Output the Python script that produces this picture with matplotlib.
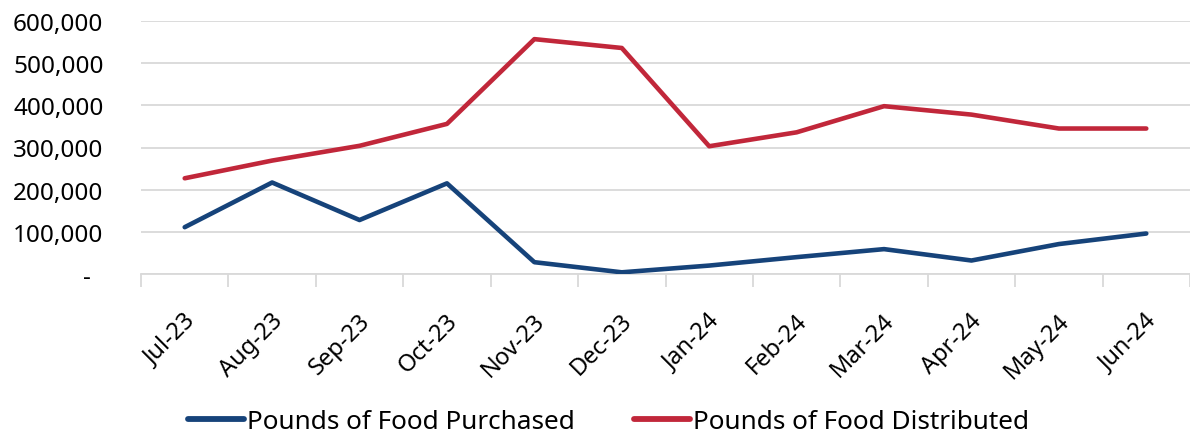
import matplotlib
matplotlib.use("Agg")
import matplotlib.pyplot as plt
import matplotlib.transforms as mtransforms
from matplotlib.ticker import FuncFormatter

months = ["Jul-23", "Aug-23", "Sep-23", "Oct-23", "Nov-23", "Dec-23",
          "Jan-24", "Feb-24", "Mar-24", "Apr-24", "May-24", "Jun-24"]
purchased = [111000, 217000, 128000, 215000, 28000, 4000,
             20000, 40000, 59000, 32000, 71000, 96000]
distributed = [227000, 269000, 304000, 356000, 557000, 536000,
               303000, 336000, 398000, 378000, 345000, 345000]
y_ticks = [0, 100000, 200000, 300000, 400000, 500000, 600000]

BLUE = "#16437A"
RED = "#C1273A"
GRID = "#D9D9D9"

plt.rcParams["font.family"] = ["Noto Sans", "DejaVu Sans"]

fig = plt.figure(figsize=(11.9, 4.39), dpi=100)
ax = fig.add_axes([141/1190, (439-275)/439, (1190-141)/1190, (275-22)/439])

x = list(range(len(months)))
ax.plot(x, purchased, color=BLUE, lw=3.3, solid_capstyle="round",
        solid_joinstyle="round", label="Pounds of Food Purchased", zorder=3)
ax.plot(x, distributed, color=RED, lw=3.3, solid_capstyle="round",
        solid_joinstyle="round", label="Pounds of Food Distributed", zorder=3)

ax.set_xlim(-0.5, (1190-185)/88)
ax.set_ylim(0, 600000)
ax.set_yticks(y_ticks)

def fmt(v, pos):
    if v == 0:
        return "-  "
    return f"{int(v):,}"
ax.yaxis.set_major_formatter(FuncFormatter(fmt))
ax.tick_params(axis="y", length=0, pad=27, labelsize=17.5, labelcolor="black")
ax.grid(axis="y", color=GRID, lw=1.3, zorder=0)

# category boundary ticks and centered labels
ax.set_xticks([i - 0.5 for i in range(len(months) + 1)])
ax.set_xticklabels([])
ax.tick_params(axis="x", which="major", length=9, width=1.3, color=GRID)
ax.set_xticks(x, minor=True)
ax.set_xticklabels(months, minor=True, rotation=45, ha="right", va="center",
                   rotation_mode="anchor", fontsize=17)
ax.tick_params(axis="x", which="minor", length=0, pad=31)
offset = mtransforms.ScaledTranslation(7/100, 0, fig.dpi_scale_trans)
for lab in ax.get_xticklabels(minor=True):
    lab.set_transform(lab.get_transform() + offset)

for s in ["top", "right", "left"]:
    ax.spines[s].set_visible(False)
ax.spines["bottom"].set_color(GRID)
ax.spines["bottom"].set_linewidth(1.3)

leg = fig.legend(loc="center", bbox_to_anchor=(608.5/1190, 16/439), ncol=2,
                 frameon=False, fontsize=18.8, handlelength=2.15,
                 handletextpad=0.12, columnspacing=2.26)
for line in leg.get_lines():
    line.set_linewidth(4.2)

fig.savefig("out.png", dpi=100)
